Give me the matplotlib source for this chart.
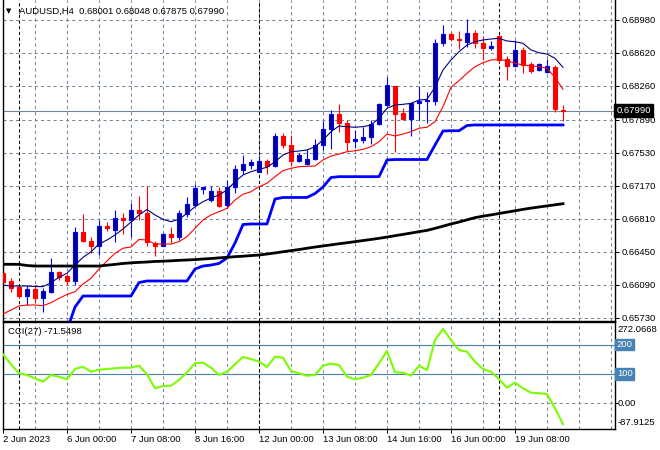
import numpy as np
import matplotlib.pyplot as plt
from matplotlib.transforms import blended_transform_factory

plt.rcParams['font.family'] = ['Liberation Sans', 'DejaVu Sans']
plt.rcParams['font.size'] = 6.8

# AUDUSD H4 candles, 2 Jun 16:00 .. 19 Jun 16:00
opens = [0.66223, 0.66133, 0.66060, 0.65969, 0.66046, 0.65940, 0.66016, 0.66228, 0.66180, 0.66136,
         0.66660, 0.66569, 0.66515, 0.66733, 0.66689, 0.66823, 0.66791, 0.66907, 0.66871, 0.66544,
         0.66518, 0.66642, 0.66616, 0.66864, 0.66962, 0.67133, 0.67009, 0.67115, 0.66962, 0.67155,
         0.67344, 0.67401, 0.67325, 0.67442, 0.67380, 0.67715, 0.67616, 0.67445, 0.67406, 0.67460,
         0.67609, 0.67788, 0.67951, 0.67853, 0.67660, 0.67671, 0.67700, 0.67842, 0.68053, 0.68260,
         0.67965, 0.67897, 0.68071, 0.68089, 0.68089, 0.68726, 0.68827, 0.68773, 0.68743, 0.68835,
         0.68726, 0.68671, 0.68805, 0.68551, 0.68471, 0.68653, 0.68500, 0.68435, 0.68409, 0.68464,
         0.68001]
highs = [0.66362, 0.66162, 0.66089, 0.66089, 0.66089, 0.66053, 0.66387, 0.66245, 0.66206, 0.66725,
         0.66860, 0.66616, 0.66798, 0.66773, 0.66907, 0.66871, 0.66980, 0.67060, 0.67169, 0.66572,
         0.66656, 0.66725, 0.66900, 0.67052, 0.67188, 0.67151, 0.67169, 0.67151, 0.67235, 0.67398,
         0.67507, 0.67460, 0.67496, 0.67460, 0.67744, 0.67744, 0.67725, 0.67532, 0.67569, 0.67679,
         0.67871, 0.67998, 0.68064, 0.67889, 0.67780, 0.67816, 0.67889, 0.68078, 0.68361, 0.68260,
         0.68017, 0.68078, 0.68260, 0.68198, 0.68769, 0.68925, 0.68852, 0.68863, 0.68988, 0.68871,
         0.68805, 0.68754, 0.68816, 0.68580, 0.68762, 0.68682, 0.68525, 0.68508, 0.68551, 0.68489,
         0.68048]
lows = [0.66071, 0.66016, 0.65944, 0.65871, 0.65890, 0.65798, 0.66005, 0.66144, 0.66082, 0.66089,
        0.66551, 0.66435, 0.66416, 0.66671, 0.66551, 0.66645, 0.66616, 0.66798, 0.66515, 0.66405,
        0.66515, 0.66544, 0.66580, 0.66834, 0.66951, 0.67082, 0.66991, 0.66937, 0.66926, 0.67090,
        0.67297, 0.67351, 0.67319, 0.67300, 0.67373, 0.67580, 0.67387, 0.67434, 0.67398, 0.67453,
        0.67562, 0.67573, 0.67761, 0.67554, 0.67580, 0.67641, 0.67624, 0.67835, 0.68042, 0.67543,
        0.67889, 0.67715, 0.67889, 0.67853, 0.68053, 0.68689, 0.68754, 0.68660, 0.68682, 0.68678,
        0.68544, 0.68653, 0.68522, 0.68326, 0.68464, 0.68399, 0.68399, 0.68424, 0.68399, 0.67969,
        0.67875]
closes = [0.66122, 0.66049, 0.65969, 0.66046, 0.65940, 0.66027, 0.66228, 0.66169, 0.66133, 0.66660,
          0.66562, 0.66515, 0.66733, 0.66708, 0.66817, 0.66791, 0.66907, 0.66871, 0.66551, 0.66518,
          0.66642, 0.66616, 0.66871, 0.66970, 0.67144, 0.67151, 0.67115, 0.66954, 0.67155, 0.67351,
          0.67406, 0.67434, 0.67442, 0.67380, 0.67715, 0.67609, 0.67445, 0.67500, 0.67460, 0.67609,
          0.67788, 0.67951, 0.67853, 0.67652, 0.67679, 0.67700, 0.67842, 0.68060, 0.68271, 0.67955,
          0.67897, 0.68071, 0.68089, 0.68100, 0.68726, 0.68827, 0.68769, 0.68759, 0.68835, 0.68726,
          0.68678, 0.68689, 0.68544, 0.68471, 0.68653, 0.68489, 0.68424, 0.68497, 0.68471, 0.68006,
          0.67990]

# overlay lines
ma_fast = [0.66087, 0.66076, 0.66076, 0.66076, 0.66071, 0.66069, 0.66112, 0.66171, 0.66215, 0.66305,
           0.66389, 0.66450, 0.66534, 0.66578, 0.66633, 0.66698, 0.66774, 0.66851, 0.66911, 0.66851,
           0.66804, 0.66778, 0.66804, 0.66869, 0.66941, 0.66996, 0.67036, 0.67069, 0.67124, 0.67214,
           0.67287, 0.67323, 0.67349, 0.67371, 0.67432, 0.67505, 0.67541, 0.67549, 0.67560, 0.67596,
           0.67669, 0.67760, 0.67822, 0.67814, 0.67808, 0.67814, 0.67833, 0.67906, 0.68015, 0.68051,
           0.68058, 0.68069, 0.68105, 0.68113, 0.68244, 0.68433, 0.68542, 0.68632, 0.68705, 0.68741,
           0.68760, 0.68771, 0.68778, 0.68749, 0.68741, 0.68724, 0.68651, 0.68621, 0.68607, 0.68560,
           0.68462]
ma_slow = [0.65771, 0.65814, 0.65858, 0.65869, 0.65869, 0.65861, 0.65894, 0.65942, 0.65984, 0.66014,
           0.66098, 0.66160, 0.66262, 0.66349, 0.66433, 0.66488, 0.66502, 0.66584, 0.66578, 0.66534,
           0.66534, 0.66534, 0.66560, 0.66614, 0.66706, 0.66796, 0.66851, 0.66887, 0.66924, 0.67014,
           0.67077, 0.67105, 0.67160, 0.67197, 0.67269, 0.67334, 0.67360, 0.67378, 0.67382, 0.67385,
           0.67451, 0.67494, 0.67516, 0.67541, 0.67552, 0.67567, 0.67596, 0.67650, 0.67734, 0.67713,
           0.67734, 0.67760, 0.67797, 0.67808, 0.67869, 0.68032, 0.68244, 0.68316, 0.68397, 0.68469,
           0.68512, 0.68542, 0.68547, 0.68534, 0.68506, 0.68487, 0.68476, 0.68469, 0.68451, 0.68351,
           0.68222]
nan = float('nan')
channel_low = [nan, nan, nan, nan, nan, nan, nan, nan, 0.65596, 0.65847,
               0.65967, 0.65967, 0.65967, 0.65967, 0.65967, 0.65967, 0.65967, 0.66114, 0.66131, 0.66131,
               0.66131, 0.66131, 0.66131, 0.66131, 0.66262, 0.66294, 0.66305, 0.66322, 0.66382, 0.66545,
               0.66747, 0.66753, 0.66753, 0.66753, 0.67025, 0.67042, 0.67042, 0.67042, 0.67042, 0.67085,
               0.67156, 0.67260, 0.67269, 0.67269, 0.67269, 0.67269, 0.67269, 0.67269, 0.67451, 0.67456,
               0.67456, 0.67456, 0.67456, 0.67456, 0.67614, 0.67767, 0.67770, 0.67770, 0.67827, 0.67833,
               0.67833, 0.67833, 0.67833, 0.67833, 0.67833, 0.67833, 0.67833, 0.67833, 0.67833, 0.67833,
               0.67833]
ma_200 = [0.66313, 0.66313, 0.66312, 0.66300, 0.66294, 0.66294, 0.66294, 0.66294, 0.66294, 0.66294,
          0.66294, 0.66294, 0.66294, 0.66303, 0.66312, 0.66322, 0.66329, 0.66334, 0.66338, 0.66344,
          0.66347, 0.66351, 0.66356, 0.66360, 0.66364, 0.66371, 0.66376, 0.66383, 0.66389, 0.66396,
          0.66401, 0.66408, 0.66414, 0.66425, 0.66437, 0.66450, 0.66462, 0.66474, 0.66488, 0.66501,
          0.66513, 0.66525, 0.66537, 0.66548, 0.66560, 0.66572, 0.66584, 0.66596, 0.66610, 0.66625,
          0.66639, 0.66654, 0.66669, 0.66683, 0.66705, 0.66729, 0.66753, 0.66774, 0.66798, 0.66822,
          0.66838, 0.66852, 0.66867, 0.66882, 0.66897, 0.66912, 0.66926, 0.66938, 0.66950, 0.66962,
          0.66974]

cci = [166.8, 132.7, 102.0, 96.2, 84.9, 73.4, 96.2, 90.4, 81.5, 116.7,
       124.5, 107.5, 114.3, 116.7, 119.1, 121.1, 121.1, 127.9, 98.6, 50.8,
       58.7, 59.7, 79.2, 105.4, 136.1, 138.2, 121.1, 96.2, 107.5, 132.7,
       157.6, 150.8, 141.6, 123.5, 158.6, 155.2, 109.9, 102.0, 93.8, 96.2,
       127.9, 134.8, 130.3, 90.4, 81.5, 87.0, 96.2, 136.1, 178.1, 105.4,
       104.1, 93.8, 127.9, 113.3, 215.6, 253.2, 215.6, 181.5, 175.7, 141.6,
       116.7, 107.5, 82.6, 52.9, 69.9, 50.8, 35.8, 33.8, 31.4, -17.4,
       -71.5498]
cci_max = 272.0668
cci_min = -87.9125

price_ticks = [0.65730, 0.66090, 0.66450, 0.66810, 0.67170, 0.67530, 0.67890, 0.68260, 0.68620, 0.68980]
date_labels = ["2 Jun 2023", "6 Jun 00:00", "7 Jun 08:00", "8 Jun 16:00", "12 Jun 00:00",
               "13 Jun 08:00", "14 Jun 16:00", "16 Jun 00:00", "19 Jun 08:00"]
date_bars = [0, 8, 16, 24, 32, 40, 48, 56, 64]
week_starts = [2, 32, 62]

W, H = 660, 450


def box(left, top, right, bottom):
    return [left / W, 1 - bottom / H, (right - left) / W, (bottom - top) / H]


fig = plt.figure(figsize=(W / 100, H / 100), dpi=100)
ax = fig.add_axes(box(3, 0, 615, 321))
ax_cci = fig.add_axes(box(3, 322, 615, 428.5), sharex=ax)

x = np.arange(len(opens))
o, h, l, c = map(np.array, (opens, highs, lows, closes))
up = c >= o

grid_kw = dict(color='#778899', lw=0.75, ls=(0, (3, 3)), zorder=0)
sep_kw = dict(color='black', lw=0.75, ls=(0, (3, 2.5)), zorder=0.5)
for a in (ax, ax_cci):
    for b in range(4, 77, 4):
        a.axvline(b, **grid_kw)
    for b in week_starts:
        a.axvline(b, **sep_kw)
    for s in a.spines.values():
        s.set_color('black')
        s.set_linewidth(1.0)
ax.spines['top'].set_visible(False)

for p in price_ticks:
    ax.axhline(p, **grid_kw)
last = closes[-1]
ax.axhline(last, color='#778899', lw=0.8, zorder=0.6)

# candles
edge = np.where(up, '#0000FF', '#FF0000')
face = np.where(up, '#00008B', '#FF0000')
ax.vlines(x, l, h, colors=edge, lw=0.8, zorder=2)
ax.bar(x, np.maximum(np.abs(c - o), 0.00003), bottom=np.minimum(o, c), width=0.5,
       color=face, edgecolor=edge, lw=0.8, zorder=3)

ax.plot(x, ma_fast, color='#000080', lw=0.8, zorder=4)
ax.plot(x, ma_slow, color='#FF0000', lw=0.8, zorder=4)
ax.plot(x, channel_low, color='#0000FF', lw=2.0, zorder=4)
ax.plot(x, ma_200, color='black', lw=2.0, zorder=4)

ax.set_xlim(0, 76.5)
ax.set_ylim(0.656944, 0.691962)
ax.yaxis.tick_right()
ax.set_yticks(price_ticks)
ax.set_yticklabels([f"{p:.5f}" for p in price_ticks])
ax.tick_params(axis='y', length=3, width=0.75, pad=2, labelsize=6.8)
ax.tick_params(axis='x', bottom=False, labelbottom=False)

tr = blended_transform_factory(ax.transAxes, ax.transData)
ax.text(1.002, last, f"{last:.5f}", transform=tr, ha='left', va='center', color='white',
        zorder=10, bbox=dict(boxstyle='square,pad=0.2', fc='black', ec='black'))

# CCI panel
ax_cci.plot(x, cci, color='#7CFC00', lw=1.5, zorder=3)
for lvl in (100, 200):
    ax_cci.axhline(lvl, color='#4682B4', lw=0.8, zorder=1)
ax_cci.axhline(0, **grid_kw)
ax_cci.set_ylim(-86.3, 277.0)
ax_cci.yaxis.tick_right()
ax_cci.set_yticks([0, 100, 200])
ax_cci.tick_params(axis='y', length=2, width=0.75, labelright=False)
trc = blended_transform_factory(ax_cci.transAxes, ax_cci.transData)
for lvl in (100, 200):
    ax_cci.text(1.003, lvl, f"{lvl}", transform=trc, ha='left', va='center', color='white',
                bbox=dict(boxstyle='square,pad=0.15', fc='#4682B4', ec='#4682B4'))
ax_cci.text(1.004, 0, "0.00", transform=trc, ha='left', va='center')
ax_cci.text(1.004, 0.93, f"{cci_max:.4f}", transform=ax_cci.transAxes, ha='left', va='center')
ax_cci.text(1.004, 0.054, f"{cci_min:.4f}", transform=ax_cci.transAxes, ha='left', va='center')

ax_cci.set_xticks(date_bars)
ax_cci.set_xticklabels(date_labels)
for t in ax_cci.get_xticklabels():
    t.set_ha('left')
ax_cci.tick_params(axis='x', length=3, width=0.75, pad=1.5, labelsize=6.8)

fig.text(6 / W, 1 - 11 / H, '\u25bc', fontsize=5, family='DejaVu Sans', va='center')
fig.text(19 / W, 1 - 11 / H, "AUDUSD,H4  0.68001 0.68048 0.67875 0.67990", va='center')
fig.text(7.5 / W, 1 - 331.7 / H, f"CCI(27) {cci[-1]:.4f}", va='center')

fig.savefig('out.png', dpi=100)
